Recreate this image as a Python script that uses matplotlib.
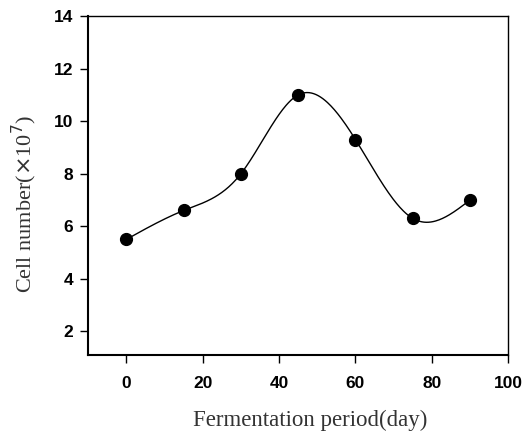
import numpy as np
import matplotlib
matplotlib.use("Agg")
import matplotlib.pyplot as plt

days = [0, 15, 30, 45, 60, 75, 90]
cells = [5.5, 6.6, 8.0, 11.0, 9.3, 6.3, 7.0]


def natural_spline(x, y, n=300):
    x = np.asarray(x, float); y = np.asarray(y, float)
    k = len(x); h = np.diff(x)
    A = np.zeros((k, k)); b = np.zeros(k)
    A[0, 0] = A[-1, -1] = 1
    for i in range(1, k - 1):
        A[i, i - 1] = h[i - 1]; A[i, i] = 2 * (h[i - 1] + h[i]); A[i, i + 1] = h[i]
        b[i] = 6 * ((y[i + 1] - y[i]) / h[i] - (y[i] - y[i - 1]) / h[i - 1])
    M = np.linalg.solve(A, b)
    xs = np.linspace(x[0], x[-1], n)
    idx = np.clip(np.searchsorted(x, xs) - 1, 0, k - 2)
    x0, x1, hh = x[idx], x[idx + 1], h[idx]
    ys = (M[idx] * (x1 - xs) ** 3 + M[idx + 1] * (xs - x0) ** 3) / (6 * hh) \
        + (y[idx] / hh - M[idx] * hh / 6) * (x1 - xs) \
        + (y[idx + 1] / hh - M[idx + 1] * hh / 6) * (xs - x0)
    return xs, ys


fig = plt.figure(figsize=(5.25, 4.34), dpi=100)
ax = fig.add_axes([0.168, 0.182, 0.8, 0.781])

xs, ys = natural_spline(days, cells)
ax.plot(xs, ys, color="black", lw=1.0)
ax.plot(days, cells, "o", color="black", ms=8.5)

ax.set_xlim(-10, 100); ax.set_ylim(1.1, 14)
ax.set_xticks([0, 20, 40, 60, 80, 100])
ax.set_yticks([2, 4, 6, 8, 10, 12, 14])
ax.tick_params(direction="out", length=6, width=1, labelsize=12.5)
ax.tick_params(axis="x", pad=9)
ax.tick_params(axis="y", pad=5)
for lab in ax.get_xticklabels() + ax.get_yticklabels():
    lab.set_fontweight("bold"); lab.set_family("Liberation Sans")
for s in ax.spines.values():
    s.set_linewidth(1.0)
ax.spines["left"].set_linewidth(1.5)
ax.spines["bottom"].set_linewidth(1.5)

ax.set_xlabel("Fermentation period(day)", family="Liberation Serif", fontsize=16.5,
              color="#333333")
ax.set_ylabel("Cell number($\\times$10$^{7}$)", family="Liberation Serif", fontsize=16,
              color="#333333")
ax.xaxis.set_label_coords(0.529, -0.163)
ax.yaxis.set_label_coords(-0.117, 0.445)

fig.savefig("out.png", dpi=100)
